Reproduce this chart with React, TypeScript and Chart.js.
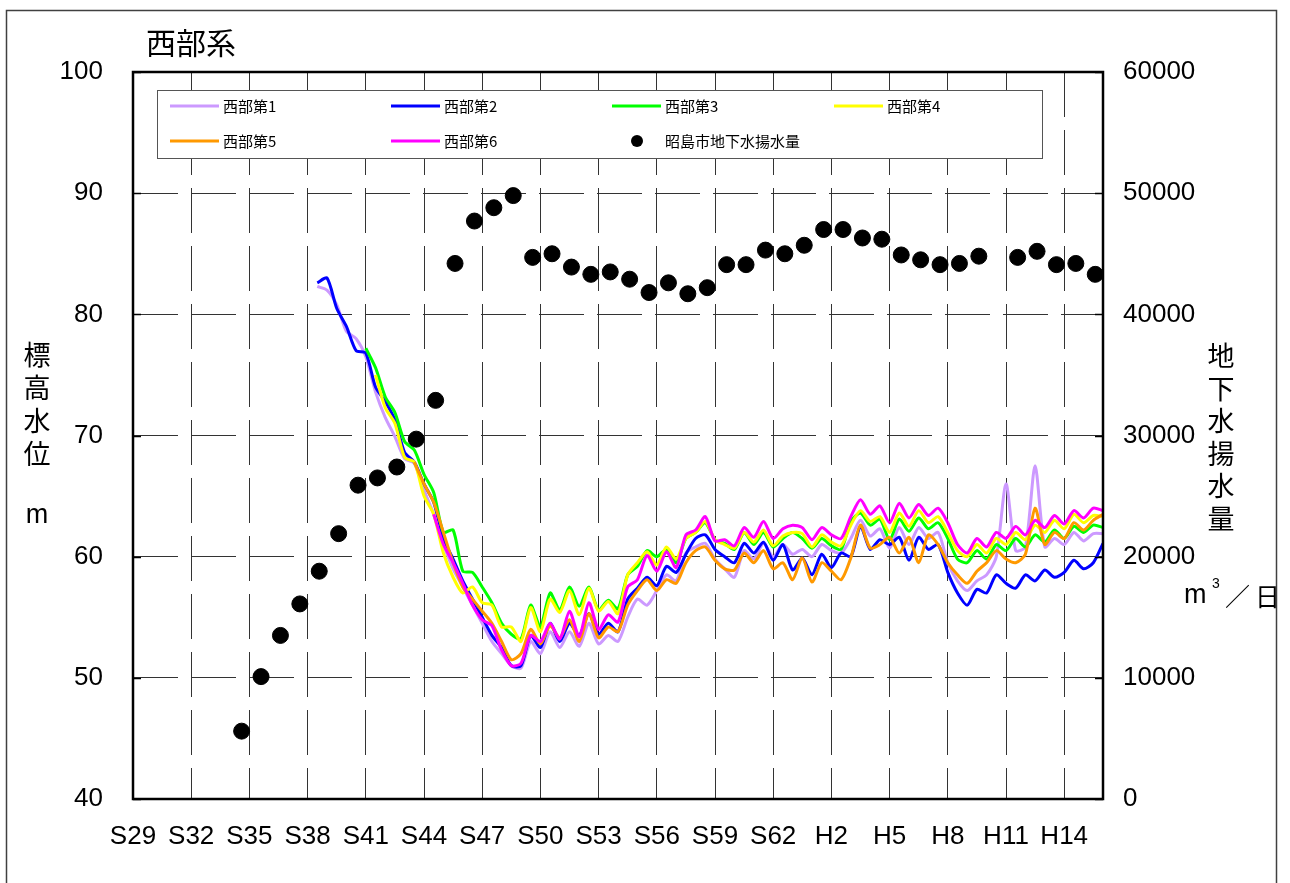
import React, { useEffect, useRef } from 'react';
import { Chart, registerables } from 'chart.js';

Chart.register(...registerables);

const CHART_TITLE = '西部系';
const LEFT_TITLE = ['標', '高', '水', '位'];
const RIGHT_TITLE = ['地', '下', '水', '揚', '水', '量'];

const X_TICK_YEARS = [1954, 1957, 1960, 1963, 1966, 1969, 1972, 1975, 1978, 1981, 1984, 1987, 1990, 1993, 1996, 1999, 2002];
const X_TICK_LABELS = ['S29', 'S32', 'S35', 'S38', 'S41', 'S44', 'S47', 'S50', 'S53', 'S56', 'S59', 'S62', 'H2', 'H5', 'H8', 'H11', 'H14'];

const YEARS = [1963.5, 1964, 1964.5, 1965, 1965.5, 1966, 1966.5, 1967, 1967.5, 1968, 1968.5, 1969, 1969.5, 1970, 1970.5, 1971, 1971.5, 1972, 1972.5, 1973, 1973.5, 1974, 1974.5, 1975, 1975.5, 1976, 1976.5, 1977, 1977.5, 1978, 1978.5, 1979, 1979.5, 1980, 1980.5, 1981, 1981.5, 1982, 1982.5, 1983, 1983.5, 1984, 1984.5, 1985, 1985.5, 1986, 1986.5, 1987, 1987.5, 1988, 1988.5, 1989, 1989.5, 1990, 1990.5, 1991, 1991.5, 1992, 1992.5, 1993, 1993.5, 1994, 1994.5, 1995, 1995.5, 1996, 1996.5, 1997, 1997.5, 1998, 1998.5, 1999, 1999.5, 2000, 2000.5, 2001, 2001.5, 2002, 2002.5, 2003, 2003.5, 2004];

const WEST1 = [82.3, 82.0, 80.8, 78.6, 78.0, 76.5, 73.6, 71.5, 69.9, 68.1,
  67.7, 65.5, 63.5, 61.0, 59.0, 57.5, 56.0, 54.5, 53.0, 52.0,
  51.0, 50.8, 53.0, 52.0, 53.8, 52.5, 53.8, 52.6, 54.5, 52.8,
  53.5, 53.0, 55.0, 56.5, 56.0, 57.2, 58.5, 58.0, 60.3, 60.8,
  61.1, 59.8, 59.0, 58.3, 60.5, 59.8, 61.1, 60.0, 61.0, 60.2,
  60.6, 60.0, 61.0, 60.5, 60.3, 61.5, 63.0, 61.7, 62.3, 60.7,
  62.4, 61.0, 62.4, 61.5, 62.0, 59.5, 58.0, 57.2, 58.0, 58.5,
  60.0, 66.0, 60.5, 60.8, 67.5, 60.8, 61.5, 61.0, 62.0, 61.3,
  61.9, 61.9];

const WEST2 = [82.6, 83.0, 80.5, 79.0, 77.0, 76.8, 74.0, 72.8, 71.3, 68.6,
  67.8, 66.0, 64.5, 61.5, 59.8, 58.0, 56.5, 55.0, 53.5, 52.5,
  51.0, 51.0, 53.5, 52.5, 54.5, 53.0, 54.5, 53.5, 55.3, 53.6,
  54.5, 53.8, 56.5, 57.4, 58.3, 57.6, 59.2, 58.7, 60.2, 61.5,
  61.8, 60.6, 60.0, 59.5, 61.1, 60.3, 61.2, 59.7, 61.0, 58.9,
  59.9, 58.5, 60.2, 59.1, 60.3, 60.0, 62.5, 60.6, 61.4, 61.0,
  61.6, 59.7, 61.6, 60.6, 61.0, 58.7, 57.0, 56.0, 57.3, 57.0,
  58.5, 57.8, 57.4, 58.5, 58.0, 58.9, 58.3, 58.7, 59.7, 59.0,
  59.5, 61.1];

const WEST3 = [null, null, null, null, null, 77.2, 75.6, 73.2, 71.9, 69.5,
  68.8, 66.8, 65.3, 62.0, 62.2, 58.8, 58.7, 57.5, 56.2, 54.5,
  53.6, 53.2, 56.0, 54.2, 57.0, 55.6, 57.5, 55.9, 57.5, 55.6,
  56.4, 55.7, 58.5, 59.2, 60.5, 60.0, 60.6, 59.5, 61.5, 62.0,
  62.8, 61.4, 61.1, 60.6, 62.0, 61.0, 62.0, 60.8, 61.5, 62.0,
  61.5, 60.7, 61.5, 60.9, 60.6, 62.9, 63.6, 62.6, 63.1, 61.4,
  63.1, 62.1, 63.2, 62.3, 62.8, 61.5, 59.8, 59.5, 60.5, 59.8,
  61.0, 60.5, 61.5, 60.8, 61.8, 61.2, 62.2, 61.5, 62.5, 62.0,
  62.6, 62.4];

const WEST4 = [null, null, null, null, null, null, 75.0, 72.3, 71.0, 68.2,
  67.8, 65.0, 63.5, 60.3, 58.3, 57.0, 57.5, 56.2, 56.0, 54.2,
  54.2, 53.0, 55.8, 53.8, 56.5, 55.4, 57.2, 55.2, 57.4, 55.5,
  56.3, 55.3, 58.5, 59.5, 60.4, 59.3, 60.8, 59.8, 61.5, 62.0,
  62.9, 61.4, 61.0, 60.7, 62.0, 61.2, 62.2, 60.9, 61.7, 62.0,
  61.9, 60.8, 61.8, 61.2, 60.9, 62.6, 63.8, 62.9, 63.3, 62.0,
  63.6, 62.5, 63.8, 62.8, 63.3, 62.0, 60.5, 60.0, 61.0, 60.3,
  61.5, 61.0, 62.0, 61.4, 62.6, 62.0, 63.0, 62.3, 63.5, 62.8,
  63.4, 63.3];

const WEST5 = [null, null, null, null, null, null, null, null, null, null,
  67.8, 66.0, 64.5, 62.0, 59.5, 57.5, 56.5, 55.5, 54.5, 53.0,
  51.5, 52.0, 54.0, 52.8, 54.3, 53.3, 54.8, 53.0, 55.3, 53.3,
  54.2, 53.8, 56.0, 57.2, 58.1, 57.2, 58.1, 57.8, 59.5, 60.5,
  60.8, 59.7, 59.0, 58.9, 60.3, 59.5, 60.5, 59.0, 59.5, 58.1,
  59.9, 57.9, 59.5, 58.8, 58.1, 59.9, 62.6, 60.7, 61.0, 61.6,
  60.3, 61.6, 59.5, 61.8, 61.0, 59.5, 58.5, 57.8, 58.8, 59.5,
  60.5, 59.8, 59.5, 60.2, 64.0, 61.0, 62.0, 61.5, 62.8, 62.2,
  63.0, 63.5];

const WEST6 = [null, null, null, null, null, null, null, null, null, null,
  null, null, 63.5, 61.0, 59.5, 57.8, 56.0, 54.8, 54.3, 52.3,
  51.0, 51.2, 53.5, 53.0, 54.5, 53.2, 55.5, 53.4, 56.2, 54.0,
  55.2, 54.6, 57.5, 58.1, 60.1, 58.8, 60.4, 59.1, 61.8, 62.2,
  63.3, 61.3, 61.4, 60.9, 62.4, 61.6, 62.9, 61.5, 62.3, 62.6,
  62.4, 61.4, 62.4, 61.8, 61.5, 63.3, 64.7, 63.5, 64.2, 62.8,
  64.4, 63.2, 64.3, 63.4, 64.0, 62.8, 61.0, 60.3, 61.5, 60.8,
  62.0, 61.5, 62.5, 61.8, 63.0, 62.4, 63.4, 62.7, 63.8, 63.2,
  64.0, 63.8];

const PUMP_YEARS = [1959, 1960, 1961, 1962, 1963, 1964, 1965, 1966, 1967, 1968, 1969, 1970, 1971, 1972, 1973, 1974, 1975, 1976, 1977, 1978, 1979, 1980, 1981, 1982, 1983, 1984, 1985, 1986, 1987, 1988, 1989, 1990, 1991, 1992, 1993, 1994, 1995, 1996, 1997, 1999, 2000, 2001, 2002, 2003];
const PUMP_VALUES = [5600, 10100, 13500, 16100, 18800, 21900, 25900, 26500, 27400, 29700, 32900, 44200, 47700, 48800, 49800, 44700, 45000, 43900, 43300, 43500, 42900, 41800, 42600, 41700, 42200, 44100, 44100, 45300, 45000, 45700, 47000, 47000, 46300, 46200, 44900, 44500, 44100, 44200, 44800, 44700, 45200, 44100, 44200, 43300];

const SERIES_LABELS = ['西部第1', '西部第2', '西部第3', '西部第4', '西部第5', '西部第6'];
const SERIES_VALUES = [WEST1, WEST2, WEST3, WEST4, WEST5, WEST6];
const SERIES_COLORS = ['#CC99FF', '#0000FF', '#00FF00', '#FFFF00', '#FF9900', '#FF00FF'];
const SERIES_ORDER = [6, 5, 4, 3, 2, 1];
const PUMP_LABEL = '昭島市地下水揚水量';

const CJK = '"Noto Sans CJK JP", "Noto Sans", sans-serif';
const LATIN = '"Liberation Sans", Arial, sans-serif';

const decorPlugin = {
  id: 'decor',
  afterDraw(chart: any) {
    const ctx = chart.ctx as CanvasRenderingContext2D;
    const a = chart.chartArea;
    ctx.save();
    ctx.setLineDash([]);

    // inner tick marks
    ctx.strokeStyle = '#000';
    ctx.lineWidth = 1.5;
    const yScale = chart.scales.y;
    yScale.ticks.forEach((t: any) => {
      const py = Math.round(yScale.getPixelForValue(t.value)) + 0.5;
      ctx.beginPath();
      ctx.moveTo(a.left, py);
      ctx.lineTo(a.left + 8, py);
      ctx.moveTo(a.right - 8, py);
      ctx.lineTo(a.right, py);
      ctx.stroke();
    });

    // plot box
    ctx.strokeStyle = '#000';
    ctx.lineWidth = 2.5;
    ctx.strokeRect(a.left, a.top, a.right - a.left, a.bottom - a.top);

    // outer frame
    ctx.strokeStyle = '#404040';
    ctx.lineWidth = 1.5;
    ctx.strokeRect(6.5, 10.5, 1270, 900);

    // title
    ctx.fillStyle = '#000';
    ctx.textBaseline = 'middle';
    ctx.textAlign = 'left';
    ctx.font = `30px ${CJK}`;
    ctx.fillText(CHART_TITLE, 146, 43);

    // left axis title
    ctx.textAlign = 'center';
    ctx.font = `27px ${CJK}`;
    LEFT_TITLE.forEach((ch, i) => ctx.fillText(ch, 37, 355 + i * 33));
    ctx.font = `27px ${LATIN}`;
    ctx.fillText('m', 37, 516);

    // right axis title
    ctx.font = `27px ${CJK}`;
    RIGHT_TITLE.forEach((ch, i) => ctx.fillText(ch, 1221, 356 + i * 32.5));
    ctx.textAlign = 'left';
    ctx.font = `27px ${LATIN}`;
    ctx.fillText('m', 1184, 596);
    ctx.font = `14px ${LATIN}`;
    ctx.fillText('3', 1212, 584);
    ctx.font = `25px ${CJK}`;
    ctx.fillText('／', 1225, 596);
    ctx.fillText('日', 1255, 596);

    // legend box
    ctx.fillStyle = '#fff';
    ctx.fillRect(157, 90, 885, 68);
    ctx.strokeStyle = '#555';
    ctx.lineWidth = 1;
    ctx.strokeRect(157.5, 90.5, 885, 68);

    const cols = [170, 391, 612, 834];
    const rows = [106, 141];
    ctx.font = `15px ${CJK}`;
    ctx.textBaseline = 'middle';
    const ds = chart.data.datasets;
    for (let k = 0; k < SERIES_LABELS.length; k++) {
      const row = k < 4 ? 0 : 1;
      const col = k < 4 ? k : k - 4;
      const x0 = cols[col];
      const y0 = rows[row];
      ctx.strokeStyle = ds[k].borderColor;
      ctx.lineWidth = 3;
      ctx.beginPath();
      ctx.moveTo(x0, y0);
      ctx.lineTo(x0 + 49, y0);
      ctx.stroke();
      ctx.fillStyle = '#000';
      ctx.fillText(ds[k].label, x0 + 53, y0);
    }
    ctx.fillStyle = '#000';
    ctx.beginPath();
    ctx.arc(637, rows[1], 6, 0, Math.PI * 2);
    ctx.fill();
    ctx.fillText(ds[6].label, 665, rows[1]);

    ctx.restore();
  },
};

export default function App() {
  const canvasRef = useRef<HTMLCanvasElement | null>(null);

  useEffect(() => {
    if (!canvasRef.current) return;
    const lineSets = SERIES_LABELS.map((label, k) => ({
      type: 'line' as const,
      label,
      data: YEARS.map((x, i) => ({ x, y: SERIES_VALUES[k][i] })),
      borderColor: SERIES_COLORS[k],
      backgroundColor: SERIES_COLORS[k],
      borderWidth: 3,
      pointRadius: 0,
      tension: 0.25,
      spanGaps: false,
      yAxisID: 'y',
      order: SERIES_ORDER[k],
    }));
    const pumpSet = {
      type: 'line' as const,
      label: PUMP_LABEL,
      data: PUMP_YEARS.map((yr, i) => ({ x: yr + 0.6, y: PUMP_VALUES[i] })),
      showLine: false,
      pointRadius: 8,
      pointHoverRadius: 8,
      pointBackgroundColor: '#000',
      pointBorderColor: '#000',
      borderColor: '#000',
      backgroundColor: '#000',
      yAxisID: 'y2',
      order: 0,
    };

    const chart = new Chart(canvasRef.current, {
      type: 'line',
      data: { datasets: [...lineSets, pumpSet] as any },
      options: {
        responsive: false,
        maintainAspectRatio: false,
        animation: false,
        devicePixelRatio: 1,
        layout: { padding: { top: 72, left: 0, right: 0, bottom: 0 } },
        plugins: {
          legend: { display: false },
          tooltip: { enabled: false },
          title: { display: false },
        },
        scales: {
          x: {
            type: 'linear',
            min: 1954,
            max: 2004,
            afterBuildTicks: (axis: any) => {
              axis.ticks = X_TICK_YEARS.map((v) => ({ value: v }));
            },
            afterFit: (axis: any) => {
              axis.height = 84;
            },
            ticks: {
              autoSkip: false,
              maxRotation: 0,
              padding: 22,
              color: '#000',
              font: { family: LATIN, size: 26 },
              callback: (_v: any, i: number) => X_TICK_LABELS[i],
            },
            grid: { display: true, color: '#333', lineWidth: 1, drawTicks: false },
            border: { display: false, dash: [45, 13] },
          },
          y: {
            type: 'linear',
            position: 'left',
            min: 40,
            max: 100,
            afterFit: (axis: any) => {
              axis.width = 133;
            },
            ticks: {
              stepSize: 10,
              padding: 30,
              color: '#000',
              font: { family: LATIN, size: 26 },
              callback: (v: any) => String(v),
            },
            grid: { display: true, color: '#333', lineWidth: 1, drawTicks: false },
            border: { display: false, dash: [45, 13] },
          },
          y2: {
            type: 'linear',
            position: 'right',
            min: 0,
            max: 60000,
            afterFit: (axis: any) => {
              axis.width = 187;
            },
            ticks: {
              stepSize: 10000,
              padding: 20,
              color: '#000',
              font: { family: LATIN, size: 26 },
              callback: (v: any) => String(v),
            },
            grid: { display: false, drawTicks: false },
            border: { display: false },
          },
        },
      },
      plugins: [decorPlugin],
    });
    return () => chart.destroy();
  }, []);

  return (
    <div style={{ position: 'absolute', left: 0, top: 0, width: 1290, height: 883, background: '#fff' }}>
      <canvas ref={canvasRef} width={1290} height={883} style={{ display: 'block' }} />
    </div>
  );
}
